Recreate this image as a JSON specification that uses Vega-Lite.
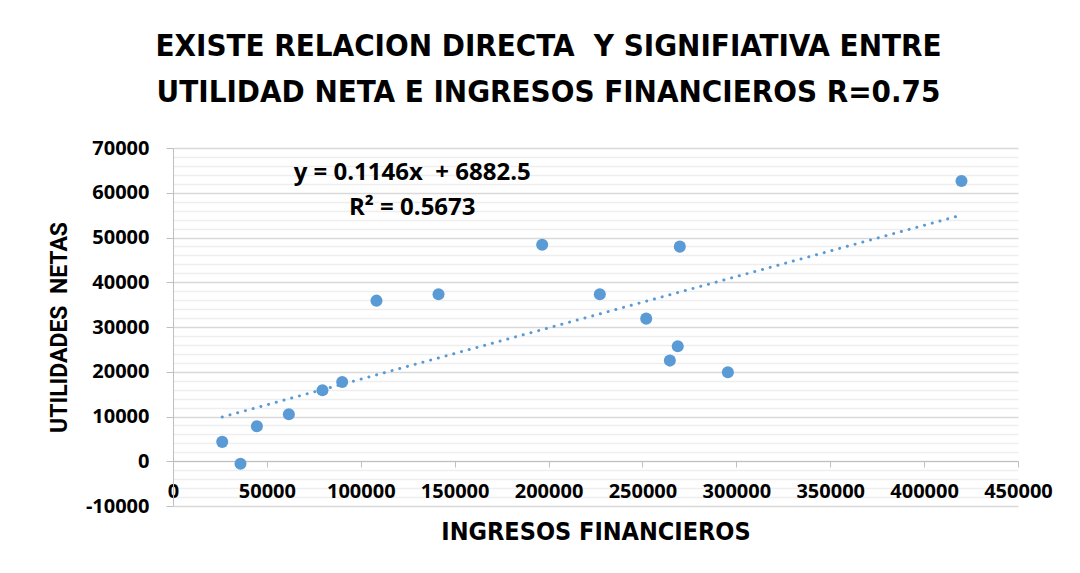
{
  "$schema": "https://vega.github.io/schema/vega-lite/v6.json",
  "width": 845,
  "height": 358,
  "autosize": "none",
  "padding": {"left": 173, "top": 148, "right": 62, "bottom": 67},
  "background": "white",
  "config": {"view": {"stroke": null}, "font": "Open Sans"},
  "title": {
    "text": ["EXISTE RELACION DIRECTA \u00a0Y SIGNIFIATIVA ENTRE", "UTILIDAD NETA E INGRESOS FINANCIEROS R=0.75"],
    "anchor": "middle",
    "dx": -47,
    "font": "DejaVu Sans Condensed",
    "fontWeight": "bold",
    "fontSize": 31,
    "lineHeight": 46,
    "offset": 29,
    "color": "black"
  },
  "datasets": {
    "points": [
      {"ingresos": 26200, "utilidad": 4330},
      {"ingresos": 35940, "utilidad": -580},
      {"ingresos": 44680, "utilidad": 7820},
      {"ingresos": 61700, "utilidad": 10500},
      {"ingresos": 79600, "utilidad": 15860},
      {"ingresos": 90100, "utilidad": 17730},
      {"ingresos": 108360, "utilidad": 35890},
      {"ingresos": 141400, "utilidad": 37300},
      {"ingresos": 196600, "utilidad": 48400},
      {"ingresos": 227300, "utilidad": 37300},
      {"ingresos": 252000, "utilidad": 31870},
      {"ingresos": 264600, "utilidad": 22490},
      {"ingresos": 268800, "utilidad": 25690},
      {"ingresos": 269900, "utilidad": 47960},
      {"ingresos": 295500, "utilidad": 19880},
      {"ingresos": 419900, "utilidad": 62630}
    ],
    "trend": [
      {"ingresos": 26200, "utilidad": 9885},
      {"ingresos": 419900, "utilidad": 55003}
    ],
    "labels": [
      {"ingresos": 127400, "utilidad": 64490, "label": "y = 0.1146x \u00a0+ 6882.5"},
      {"ingresos": 127400, "utilidad": 56620, "label": "R² = 0.5673"}
    ]
  },
  "layer": [
    {
      "data": {"name": "trend"},
      "mark": {"type": "line", "color": "#5B9BD5", "strokeWidth": 3, "strokeDash": [0.1, 7.9], "strokeCap": "round"},
      "encoding": {
        "x": {
          "field": "ingresos", "type": "quantitative",
          "scale": {"domain": [0, 450000], "nice": false, "zero": false},
          "axis": {
            "orient": "bottom", "offset": -45, "values": [0, 50000, 100000, 150000, 200000, 250000, 300000, 350000, 400000, 450000],
            "grid": false, "domainColor": "#bfbfbf", "tickColor": "#bfbfbf", "tickSize": 6,
            "labelFont": "Open Sans", "labelFontWeight": "bold", "labelFontSize": 20, "labelColor": "black", "labelPadding": 14,
            "labelOverlap": false, "labelFlush": false, "format": "d",
            "title": "INGRESOS FINANCIEROS", "titleFont": "DejaVu Sans Condensed", "titleFontWeight": "bold", "titleFontSize": 25, "titleColor": "black", "titlePadding": 18
          }
        },
        "y": {
          "field": "utilidad", "type": "quantitative",
          "scale": {"domain": [-10000, 70000], "nice": false, "zero": false},
          "axis": {
            "orient": "left", "values": [-10000, 0, 10000, 20000, 30000, 40000, 50000, 60000, 70000],
            "grid": true, "gridColor": "#d9d9d9", "gridWidth": 1.3,
            "domainColor": "#bfbfbf", "tickColor": "#bfbfbf", "tickSize": 7,
            "labelFont": "Open Sans", "labelFontWeight": "bold", "labelFontSize": 20, "labelColor": "black", "labelPadding": 17,
            "labelOverlap": false, "labelFlush": false, "format": "d",
            "labelExpr": "replace(datum.label, '\u2212', '-')",
            "title": "UTILIDADES \u00a0NETAS", "titleFont": "Roboto", "titleFontWeight": "bold", "titleFontSize": 23, "titleColor": "black", "titlePadding": 14
          }
        }
      }
    },
    {
      "data": {"name": "points"},
      "mark": {"type": "point", "shape": "circle", "filled": true, "size": 145, "color": "#5B9BD5", "opacity": 1},
      "encoding": {
        "x": {"field": "ingresos", "type": "quantitative"},
        "y": {
          "field": "utilidad", "type": "quantitative",
          "axis": {
            "orient": "right", "values": [-8000, -6000, -4000, -2000, 2000, 4000, 6000, 8000, 12000, 14000, 16000, 18000, 22000, 24000, 26000, 28000, 32000, 34000, 36000, 38000, 42000, 44000, 46000, 48000, 52000, 54000, 56000, 58000, 62000, 64000, 66000, 68000],
            "grid": true, "gridColor": "#eeeeee", "gridWidth": 1.3, "domain": false, "ticks": false, "labels": false, "title": null
          }
        }
      }
    },
    {
      "data": {"name": "labels"},
      "mark": {"type": "text", "font": "Open Sans", "fontWeight": "bold", "fontSize": 24, "color": "black", "align": "center", "baseline": "middle"},
      "encoding": {
        "x": {"field": "ingresos", "type": "quantitative"},
        "y": {"field": "utilidad", "type": "quantitative", "axis": null},
        "text": {"field": "label"}
      }
    }
  ],
  "resolve": {"axis": {"y": "independent"}}
}
